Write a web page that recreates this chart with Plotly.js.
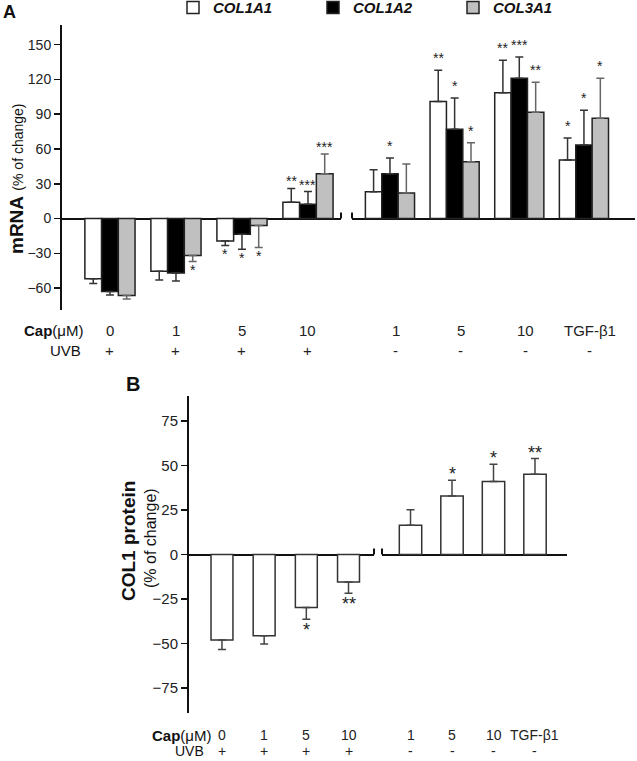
<!DOCTYPE html>
<html><head><meta charset="utf-8">
<script src="https://cdn.plot.ly/plotly-3.0.1.min.js"></script>
<style>html,body{margin:0;padding:0;background:#fff}</style>
</head><body><div id="chart" style="width:637px;height:761px"></div>
<script>
// ---------- data ----------
const capLeft = ["0", "1", "5", "10"];
const capRight = ["1", "5", "10", "TGF-β1"];
const uvb = ["+", "+", "+", "+", "-", "-", "-", "-"];

const col1a1 = [-52, -45.5, -19.5, 14, 23, 101, 108.5, 50.5];
const col1a1Err = [4, 7.5, 3.7, 12, 19, 27, 28, 19];
const col1a1Sig = ["", "", "*", "**", "", "**", "**", "*"];

const col1a2 = [-63, -47, -13.5, 12.3, 38.7, 77, 121, 63.5];
const col1a2Err = [3, 7, 13, 11, 13.6, 27, 18.5, 30];
const col1a2Sig = ["", "", "*", "***", "*", "*", "***", "*"];

const col3a1 = [-66.5, -32, -6, 38.7, 22, 49, 91.7, 86.5];
const col3a1Err = [3, 5, 19, 17, 25, 16.5, 26, 34.5];
const col3a1Sig = ["", "*", "*", "***", "", "*", "**", "*"];

const col1Protein = [-48, -45.7, -29.8, -15.4, 16.4, 32.9, 41, 45];
const col1ProteinErr = [5.4, 4.6, 6.5, 6.3, 8.8, 8.8, 9.7, 8.9];
const col1ProteinSig = ["", "", "*", "**", "", "*", "*", "**"];

// ---------- helpers ----------
const FONT = "Arial, 'Liberation Sans', sans-serif";
const BARGAP = 0.24;
const half = (arr, s) => s === 0 ? arr.slice(0, 4) : arr.slice(4);
const plusErr = (v, e) => v.map((d, i) => d >= 0 ? e[i] : 0);
const minusErr = (v, e) => v.map((d, i) => d < 0 ? e[i] : 0);
const py = px => (761 - px) / 761;
const pxx = px => px / 637;

const seriesA = [
  {name: "COL1A1", v: col1a1, e: col1a1Err, sig: col1a1Sig, fill: "#ffffff", ec: "#333"},
  {name: "COL1A2", v: col1a2, e: col1a2Err, sig: col1a2Sig, fill: "#000000", ec: "#333"},
  {name: "COL3A1", v: col3a1, e: col3a1Err, sig: col3a1Sig, fill: "#c0c0c0", ec: "#666"}
];

const traces = [];
const annotations = [];

seriesA.forEach((s, k) => {
  [0, 1].forEach(side => {
    const vals = half(s.v, side), errs = half(s.e, side);
    traces.push({
      type: "bar", name: s.name, legendgroup: s.name, showlegend: side === 0,
      x: side === 0 ? capLeft : capRight, y: vals,
      xaxis: side === 0 ? "x" : "x2", yaxis: side === 0 ? "y" : "y2",
      marker: {color: s.fill, line: {color: "#222", width: 1.5}},
      error_y: {type: "data", symmetric: false, array: plusErr(vals, errs), arrayminus: minusErr(vals, errs),
        color: s.ec, thickness: 1.5, width: 4},
      hoverinfo: "skip"
    });
    const sigs = half(s.sig, side);
    const w = (1 - BARGAP) / 3;
    sigs.forEach((t, i) => {
      if (!t) return;
      const v = vals[i], e = errs[i];
      annotations.push({
        xref: side === 0 ? "x" : "x2", yref: side === 0 ? "y" : "y2",
        x: i + (k - 1) * w, y: v >= 0 ? v + e : v - e,
        text: t, showarrow: false, xanchor: "center", yanchor: "middle",
        yshift: v >= 0 ? (side === 0 ? 7 : 12) : -9,
        font: {family: FONT, size: 14, color: "#222"}
      });
    });
  });
});

const widthB = [0.52, 0.54];
[0, 1].forEach(side => {
  const vals = half(col1Protein, side), errs = half(col1ProteinErr, side);
  traces.push({
    type: "bar", name: "COL1 protein", showlegend: false,
    x: side === 0 ? capLeft : capRight, y: vals, width: widthB[side],
    xaxis: side === 0 ? "x3" : "x4", yaxis: side === 0 ? "y3" : "y4",
    marker: {color: "#ffffff", line: {color: "#333", width: 1.5}},
    error_y: {type: "data", symmetric: false, array: plusErr(vals, errs), arrayminus: minusErr(vals, errs),
      color: "#444", thickness: 1.5, width: 4},
    hoverinfo: "skip"
  });
  half(col1ProteinSig, side).forEach((t, i) => {
    if (!t) return;
    const v = vals[i], e = errs[i];
    annotations.push({
      xref: side === 0 ? "x3" : "x4", yref: side === 0 ? "y3" : "y4",
      x: i, y: v >= 0 ? v + e : v - e, text: t, showarrow: false, xanchor: "center", yanchor: "middle",
      yshift: v >= 0 ? 6 : -11,
      font: {family: FONT, size: 18, color: "#222"}
    });
  });
});

// category rows (Cap / UVB)
function rowLabels(xrefL, xrefR, yCap, yUvb, size, shiftR) {
  const base = {yref: "paper", showarrow: false, xanchor: "center", yanchor: "middle", borderpad: 0,
    font: {family: FONT, size: size, color: "#222"}};
  capLeft.forEach((c, i) => {
    annotations.push(Object.assign({}, base, {xref: xrefL, x: i, y: yCap, text: c}));
    annotations.push(Object.assign({}, base, {xref: xrefL, x: i, y: yUvb, text: uvb[i]}));
  });
  capRight.forEach((c, i) => {
    annotations.push(Object.assign({}, base, {xref: xrefR, x: i, y: yCap, text: c, xshift: shiftR}));
    annotations.push(Object.assign({}, base, {xref: xrefR, x: i, y: yUvb, text: uvb[i + 4], xshift: shiftR}));
  });
}
rowLabels("x", "x2", py(330), py(350), 15, 6);
rowLabels("x3", "x4", py(735), py(751), 14, 0);

const paperText = (x, y, text, size, extra) => Object.assign({
  xref: "paper", yref: "paper", x: pxx(x), y: py(y), text: text, showarrow: false,
  xanchor: "center", yanchor: "middle", borderpad: 0, font: {family: FONT, size: size, color: "#111"}
}, extra || {});

annotations.push(
  paperText(84, 330, "<b>Cap</b>(μM)", 15, {xanchor: "right"}),
  paperText(82, 350, "UVB", 15, {xanchor: "right"}),
  paperText(212, 735, "<b>Cap</b>(μM)", 15, {xanchor: "right"}),
  paperText(205, 751, "UVB", 14, {xanchor: "right"}),
  // panel letters
  paperText(9, 12, "<b>A</b>", 18),
  paperText(133, 384, "<b>B</b>", 20),
  // y titles
  paperText(16, 179, "<b>mRNA</b> <span style='font-size:14px'>(% of change)</span>", 19, {textangle: -90}),
  paperText(128, 541, "<b>COL1 protein</b>", 19, {textangle: -90}),
  paperText(150, 538, "(% of change)", 16, {textangle: -90})
);

// axis break marks
const breakMark = (xref, yref, xpos) => ({
  type: "line", xref: xref, yref: yref, x0: xpos, x1: xpos,
  ysizemode: "pixel", yanchor: 0, y0: 0, y1: 6, line: {color: "#111", width: 2}
});
const shapes = [
  breakMark("x domain", "y", 1), breakMark("x2 domain", "y2", 0),
  breakMark("x3 domain", "y3", 1), breakMark("x4 domain", "y4", 0)
];

const hiddenX = {type: "category", showline: false, showticklabels: false, ticks: "", showgrid: false,
  zeroline: false, fixedrange: true};
const mainY = {showline: true, linewidth: 2, linecolor: "#111", ticks: "outside", ticklen: 6, tickwidth: 1.5,
  tickcolor: "#111", showgrid: false, zeroline: true, zerolinewidth: 2, zerolinecolor: "#111",
  tickfont: {family: FONT, size: 14, color: "#222"}, fixedrange: true};
const sideY = {showline: false, ticks: "", showticklabels: false, showgrid: false, zeroline: true,
  zerolinewidth: 2, zerolinecolor: "#111", fixedrange: true};

const layout = {
  width: 637, height: 761, margin: {l: 0, r: 0, t: 0, b: 0, autoexpand: false},
  paper_bgcolor: "#fff", plot_bgcolor: "rgba(0,0,0,0)",
  barmode: "group", bargap: BARGAP, bargroupgap: 0,
  showlegend: true,
  legend: {orientation: "h", x: pxx(173), xanchor: "left", y: 1.0115, yanchor: "top",
    entrywidth: 95, bgcolor: "rgba(0,0,0,0)",
    font: {family: FONT, size: 15, weight: "bold", style: "italic", color: "#111"}},
  xaxis: Object.assign({}, hiddenX, {domain: [0.0973, 0.5353], anchor: "y", range: [-0.727, 3.5],
    categoryorder: "array", categoryarray: capLeft}),
  xaxis2: Object.assign({}, hiddenX, {domain: [0.5526, 0.9969], anchor: "y2", range: [-0.587, 3.79],
    categoryorder: "array", categoryarray: capRight}),
  yaxis: Object.assign({}, mainY, {domain: [0.5926, 0.9671], anchor: "x", range: [-79, 167], tick0: 0, dtick: 30}),
  yaxis2: Object.assign({}, sideY, {domain: [0.5926, 0.9671], anchor: "x2", matches: "y", range: [-79, 167]}),
  xaxis3: Object.assign({}, hiddenX, {domain: [0.2967, 0.5871], anchor: "y3", range: [-0.782, 3.604],
    categoryorder: "array", categoryarray: capLeft}),
  xaxis4: Object.assign({}, hiddenX, {domain: [0.5997, 0.8901], anchor: "y4", range: [-0.687, 3.771],
    categoryorder: "array", categoryarray: capRight}),
  yaxis3: Object.assign({}, mainY, {domain: [0.0631, 0.4796], anchor: "x3", range: [-89, 89], tick0: 0, dtick: 25,
    tickfont: {family: FONT, size: 15, color: "#222"}}),
  yaxis4: Object.assign({}, sideY, {domain: [0.0631, 0.4796], anchor: "x4", matches: "y3", range: [-89, 89]}),
  annotations: annotations,
  shapes: shapes
};

Plotly.newPlot("chart", traces, layout, {displayModeBar: false, staticPlot: true});
</script></body></html>
